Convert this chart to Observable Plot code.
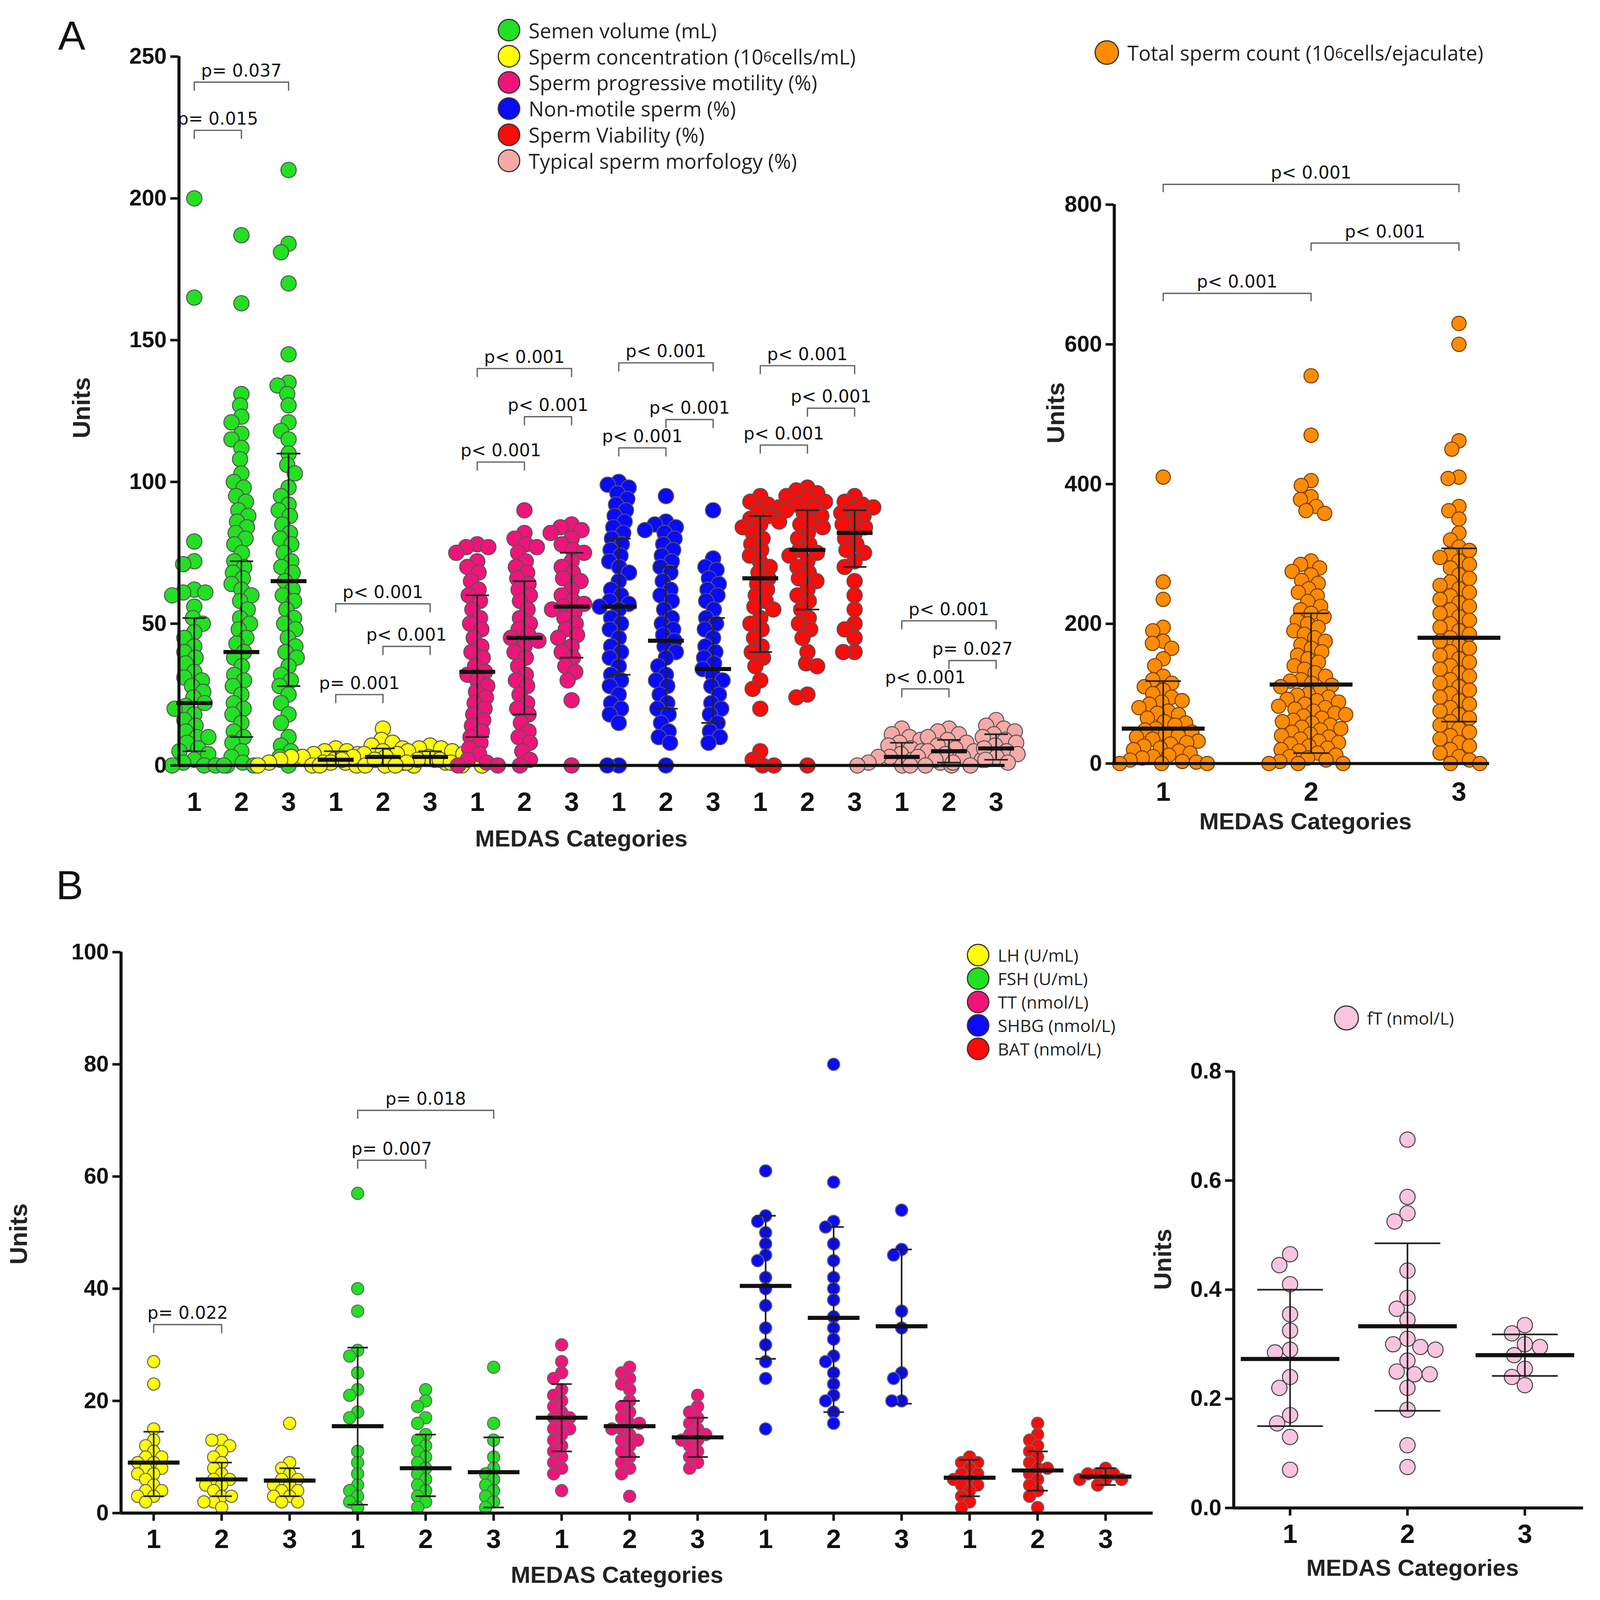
<!DOCTYPE html>
<html><head><meta charset="utf-8">
<script src="https://cdn.jsdelivr.net/npm/d3@7"></script>
<script src="https://cdn.jsdelivr.net/npm/@observablehq/plot@0.6"></script>
<style>
html,body{margin:0;padding:0;background:#fff;}
#root{position:relative;width:1560px;height:1564px;zoom:2.611;font-family:"Liberation Sans",Arial,sans-serif;overflow:hidden;}
sup{font-size:0.7em;}
</style></head><body><div id="root"></div>
<script>
const catLabels = ["1","2","3"];
// Panel A (left): 18 groups
const aColors = ["#22e022","#22e022","#22e022","#ffff00","#ffff00","#ffff00","#f0147a","#f0147a","#f0147a","#0a0aff","#0a0aff","#0a0aff","#ff0a0a","#ff0a0a","#ff0a0a","#f6a9a6","#f6a9a6","#f6a9a6"];
const aValues = [
 [200,165,79,72,71,62,61,61,60,56,52,50,47,45,42,40,38,36,33,31,30,28,26,24,22,21,20,18,16,14,12,10,10,8,6,5,4,2,1,0,0,0,0],
 [187,163,131,127,123,121,117,115,112,108,103,100,98,95,93,90,88,86,84,82,80,78,75,72,70,68,66,64,62,60,58,55,52,50,48,45,43,40,38,35,32,30,28,25,22,20,18,15,12,10,8,5,3,1,0,0],
 [210,184,181,170,145,135,134,131,127,121,118,115,110,106,103,98,95,92,90,88,85,82,80,78,75,72,70,68,65,62,60,58,55,52,50,48,45,42,40,38,35,32,30,28,25,22,18,15,10,7,5,3,0],
 [6,5,5,4,4,3,3,3,2,2,2,2,1,1,1,1,0,0,0,0],
 [13,9,8,7,6,5,4,4,3,3,3,2,2,2,1,1,1,0,0,0,0],
 [7,6,6,5,5,4,4,3,3,3,2,2,2,1,1,0,0,0],
 [78,77,77,75,72,70,68,65,62,60,58,55,52,50,48,45,42,40,38,35,33,32,30,28,26,24,22,20,18,16,14,12,10,8,6,4,2,1,0,0],
 [90,82,80,78,77,75,72,70,68,66,64,62,60,58,55,52,50,48,46,45,44,42,40,38,35,32,30,28,25,22,20,18,15,12,10,8,5,2,0],
 [85,84,83,82,80,78,76,75,72,70,68,66,65,62,60,58,57,56,55,54,52,50,48,46,45,42,40,38,35,33,30,23,0],
 [100,99,98,96,94,92,90,88,86,84,82,80,78,76,74,72,70,68,65,62,60,58,57,56,55,52,50,48,45,42,40,38,35,32,30,28,25,22,20,18,15,0,0],
 [95,86,85,84,83,82,80,78,76,74,72,70,68,65,62,60,58,55,52,50,48,46,44,42,40,38,35,32,30,28,25,22,20,18,15,12,10,8,0],
 [90,73,70,69,66,64,62,60,58,55,52,50,48,45,42,40,38,36,34,32,30,28,25,22,20,18,15,12,10,8],
 [95,93,92,91,90,88,87,86,85,84,82,80,78,76,74,72,70,68,66,64,62,60,58,56,55,52,50,48,45,42,40,38,35,30,27,20,5,2,0,0],
 [98,97,96,95,94,93,92,91,90,89,88,86,85,84,82,80,78,76,75,74,72,70,68,66,65,62,60,58,55,52,50,48,45,40,36,35,25,24,0],
 [95,93,92,91,90,89,88,86,85,84,82,80,78,76,75,72,70,65,60,55,50,48,45,40,40],
 [13,11,10,9,8,7,6,5,4,3,3,2,2,1,1,0,0,0],
 [13,12,11,10,9,8,7,6,5,5,4,3,3,2,2,1,0,0,0],
 [16,14,13,12,11,10,9,8,7,6,5,4,3,2,1]
];
const aMed = [22,40,65,2,3,3,33,45,56,56,44,34,66,76,82,3,5,6];
const aLo  = [5,10,28,0,0,0,10,18,38,32,20,15,40,55,70,0,1,2];
const aHi  = [52,72,110,5,6,5,60,65,75,80,70,52,88,90,90,8,9,11];
const aBrackets = [
 {a:0,b:1,y:224,label:"p= 0.015"},{a:0,b:2,y:241,label:"p= 0.037"},
 {a:3,b:5,y:57,label:"p< 0.001"},{a:4,b:5,y:42,label:"p< 0.001"},{a:3,b:4,y:25,label:"p= 0.001"},
 {a:6,b:8,y:140,label:"p< 0.001"},{a:7,b:8,y:123,label:"p< 0.001"},{a:6,b:7,y:107,label:"p< 0.001"},
 {a:9,b:11,y:142,label:"p< 0.001"},{a:10,b:11,y:122,label:"p< 0.001"},{a:9,b:10,y:112,label:"p< 0.001"},
 {a:12,b:14,y:141,label:"p< 0.001"},{a:13,b:14,y:126,label:"p< 0.001"},{a:12,b:13,y:113,label:"p< 0.001"},
 {a:15,b:17,y:51,label:"p< 0.001"},{a:16,b:17,y:37,label:"p= 0.027"},{a:15,b:16,y:27,label:"p< 0.001"}
];
// Panel A (right): total sperm count
const tscValues = [
 [410,260,235,195,190,175,172,165,150,140,125,120,115,110,105,100,95,90,88,85,80,75,72,70,65,60,58,55,50,48,45,42,40,38,35,32,30,28,25,22,20,18,15,12,10,8,5,3,2,0,0,0],
 [555,470,405,398,382,378,368,362,358,290,285,280,275,270,262,258,250,245,240,232,225,220,215,210,205,200,195,190,185,180,175,170,165,160,155,150,145,140,135,130,125,120,118,115,112,110,105,100,98,95,92,90,88,85,82,80,78,75,72,70,68,65,62,60,58,55,52,50,48,45,42,40,38,35,32,30,28,25,22,20,18,15,12,10,8,5,3,0,0,0],
 [630,600,462,450,410,408,368,362,350,330,320,310,305,300,295,290,285,280,270,265,260,255,250,245,240,235,230,225,220,215,210,205,200,195,190,185,180,175,170,165,160,155,150,145,140,135,130,125,120,115,110,105,100,95,90,85,80,75,70,65,60,55,50,45,40,35,30,25,20,15,10,5,0,0]
];
const tscMed = [50,113,180], tscLo = [0,15,60], tscHi = [118,215,308];
const tscBrackets = [{a:0,b:2,y:829,label:"p< 0.001"},{a:1,b:2,y:745,label:"p< 0.001"},{a:0,b:1,y:673,label:"p< 0.001"}];
// Panel B (left): hormones, 15 groups
const bColors = ["#ffff00","#ffff00","#ffff00","#22e022","#22e022","#22e022","#f0147a","#f0147a","#f0147a","#0a0aff","#0a0aff","#0a0aff","#ff0a0a","#ff0a0a","#ff0a0a"];
const bValues = [
 [27,23,15,13,12,11,10,10,9,9,8,8,7,7,6,5,4,4,3,3,2],
 [13,13,12,11,10,9,8,7,6,6,5,5,4,3,3,2,2,1],
 [16,9,8,7,6,6,5,5,4,4,3,3,2,2],
 [57,40,36,29,28,25,22,21,18,17,11,9,7,5,4,3,2,1],
 [22,20,19,17,16,14,13,12,11,10,9,8,7,6,5,4,3,2,1],
 [26,16,13,10,8,7,6,5,4,3,2,1],
 [30,27,25,24,22,21,20,19,18,17,17,16,15,15,14,13,12,11,10,9,8,7,4],
 [26,25,24,23,22,20,19,18,17,16,16,15,15,14,13,13,12,11,10,9,8,7,3],
 [21,19,18,17,16,15,14,14,13,13,12,11,10,9,8],
 [61,53,52,50,48,46,45,42,40,37,33,30,27,24,15],
 [80,59,52,51,48,45,42,40,38,35,33,31,28,27,25,23,21,20,18,16],
 [54,47,46,36,33,25,24,20,20],
 [10,9,9,8,7,7,6,6,5,5,4,3,2,1],
 [16,14,13,12,11,10,9,8,8,7,6,5,4,3,1],
 [8,7,7,7,6,6,6,5]
];
const bMed = [9,6,5.8,15.5,8,7.3,17,15.5,13.5,40.5,34.8,33.3,6.3,7.6,6.5];
const bLo  = [3,3,3,1.5,3,1,11,10,10,27.5,18,19.5,3,4,5];
const bHi  = [14.5,9,8,29.5,14,13.5,23,20,17,53,51,47,9.5,11,8];
const bBrackets = [{a:0,b:1,y:33.6,label:"p= 0.022"},{a:3,b:4,y:62.9,label:"p= 0.007"},{a:3,b:5,y:71.8,label:"p= 0.018"}];
// Panel B (right): fT
const ftValues = [
 [0.465,0.445,0.41,0.355,0.325,0.29,0.285,0.24,0.22,0.17,0.155,0.13,0.07],
 [0.675,0.57,0.54,0.525,0.435,0.385,0.365,0.345,0.31,0.30,0.295,0.29,0.27,0.25,0.245,0.245,0.22,0.18,0.115,0.075],
 [0.335,0.32,0.30,0.295,0.28,0.255,0.24,0.225]
];
const ftMed = [0.273,0.333,0.28], ftLo = [0.15,0.178,0.242], ftHi = [0.40,0.485,0.318];

// beeswarm layout (deterministic packing from the values)
function swarm(groups, base, ky, kx, r, colorOf) {
  const rows = [];
  groups.forEach((vals, i) => {
    const placed = [];
    [...vals].sort((a,b)=>b-a).forEach(v => {
      const py = v*ky; const cands = [0];
      for (const p of placed) { const dy = Math.abs(p.py-py); if (dy < 2*r) { const d = Math.sqrt(4*r*r-dy*dy); cands.push(p.px+d, p.px-d); } }
      cands.sort((a,b)=>Math.abs(a)-Math.abs(b)||a-b);
      let px = cands.find(c => placed.every(p => (p.px-c)**2+(p.py-py)**2 >= 4*r*r-0.01));
      placed.push({px,py});
      rows.push({x: base(i) + px/kx, v, c: colorOf(i)});
    });
  });
  return rows;
}

function panel({values, med, lo, hi, brackets, xDomain, yDomain, yTicks, xTicks, xTickFmt, width, height, margins, r, collide, colorOf, base, dotStroke, arm, cap, medHalf, tickFmt, bracketFont, xTickSize, xPad}) {
  const [mt, mr, mb, ml] = margins;
  const ky = (height-mt-mb)/(yDomain[1]-yDomain[0]);
  const kx = (width-ml-mr)/(xDomain[1]-xDomain[0]);
  const pts = swarm(values, base, ky, kx, collide, colorOf);
  const stats = med.map((m,i)=>({x: base(i), m, lo: lo[i], hi: hi[i]}));
  const br = brackets.map(d=>({...d, xa: base(d.a), xb: base(d.b), xm:(base(d.a)+base(d.b))/2, y2: d.y-arm}));
  return Plot.plot({
    width, height, marginTop: mt, marginRight: mr, marginBottom: mb, marginLeft: ml,
    style: {fontFamily: "Liberation Sans, Arial, sans-serif", fontSize: "22px", fontWeight: "bold", color: "#111", overflow: "visible"},
    x: {domain: xDomain, axis: null},
    y: {domain: yDomain, axis: null},
    marks: [
      Plot.dot(pts, {x: "x", y: "v", r, fill: "c", stroke: dotStroke, strokeWidth: 1}),
      Plot.ruleX(stats, {x: "x", y1: "lo", y2: "hi", stroke: "#222", strokeWidth: 1.6}),
      Plot.link(stats, {x1: d=>d.x-cap, x2: d=>d.x+cap, y1: "lo", y2: "lo", stroke: "#222", strokeWidth: 1.6}),
      Plot.link(stats, {x1: d=>d.x-cap, x2: d=>d.x+cap, y1: "hi", y2: "hi", stroke: "#222", strokeWidth: 1.6}),
      Plot.link(stats, {x1: d=>d.x-medHalf, x2: d=>d.x+medHalf, y1: "m", y2: "m", stroke: "#111", strokeWidth: 4}),
      Plot.link(br, {x1: "xa", x2: "xb", y1: "y", y2: "y", stroke: "#666", strokeWidth: 1.3}),
      Plot.ruleX(br, {x: "xa", y1: "y", y2: "y2", stroke: "#666", strokeWidth: 1.3}),
      Plot.ruleX(br, {x: "xb", y1: "y", y2: "y2", stroke: "#666", strokeWidth: 1.3}),
      Plot.text(br, {x: "xm", y: "y", text: "label", dy: -11, fontWeight: "normal", fontSize: bracketFont, fontFamily: "DejaVu Sans, sans-serif", fill: "#111"}),
      Plot.ruleY([yDomain[0]], {stroke: "#111", strokeWidth: 3}),
      Plot.ruleX([xDomain[0]], {stroke: "#111", strokeWidth: 3}),
      Plot.axisY({ticks: yTicks, tickSize: 8, tickPadding: 4, tickFormat: tickFmt, label: null, strokeWidth: 2.5}),
      Plot.axisX({ticks: xTicks, tickSize: xTickSize, tickPadding: xPad, tickFormat: xTickFmt, label: null, fontSize: 26, strokeWidth: 2.5})
    ]
  });
}

const root = document.getElementById("root");
function place(el, left, top) { el.style.position = "absolute"; el.style.left = left+"px"; el.style.top = top+"px"; root.appendChild(el); }
function html(s, left, top, css) { const d = document.createElement("div"); d.innerHTML = s; d.style.cssText = css||""; place(d, left, top); return d; }

// A left
place(panel({values: aValues, med: aMed, lo: aLo, hi: aHi, brackets: aBrackets,
  xDomain: [-0.324, 17.19], yDomain: [0,250], yTicks: [0,50,100,150,200,250], xTicks: d3.range(18), xTickFmt: i=>catLabels[i%3],
  width: 900, height: 850, margins: [55,15,100,75], r: 7.5, collide: 5.6, colorOf: i=>aColors[i], base: i=>i,
  dotStroke: "#555", arm: 3.2, cap: 0.25, medHalf: 0.38, tickFmt: d=>d, bracketFont: 17, xTickSize: 0, xPad: 26}), 100, 0);

// A right
place(panel({values: tscValues, med: tscMed, lo: tscLo, hi: tscHi, brackets: tscBrackets,
  xDomain: [0.669, 3.207], yDomain: [0,800], yTicks: [0,200,400,600,800], xTicks: [1,2,3], xTickFmt: d=>d,
  width: 480, height: 700, margins: [50,20,102,92], r: 7, collide: 5.4, colorOf: ()=>"#ff8c00", base: i=>i+1,
  dotStroke: "#7a3d00", arm: 12, cap: 0.12, medHalf: 0.28, tickFmt: d=>d, bracketFont: 17, xTickSize: 0, xPad: 18}), 1000, 150);

// B left
place(panel({values: bValues, med: bMed, lo: bLo, hi: bHi, brackets: bBrackets,
  xDomain: [-0.48, 14.7], yDomain: [0,100], yTicks: [0,20,40,60,80,100], xTicks: d3.range(15), xTickFmt: i=>catLabels[i%3],
  width: 1100, height: 650, margins: [33,20,67,68], r: 6, collide: 4.8, colorOf: i=>bColors[i], base: i=>i,
  dotStroke: "#666", arm: 1.6, cap: 0.15, medHalf: 0.38, tickFmt: d=>d, bracketFont: 17, xTickSize: 8, xPad: 8}), 50, 900);

// B right
place(panel({values: ftValues, med: ftMed, lo: ftLo, hi: ftHi, brackets: [],
  xDomain: [0.52, 3.5], yDomain: [0,0.8], yTicks: [0,0.2,0.4,0.6,0.8], xTicks: [1,2,3], xTickFmt: d=>d,
  width: 410, height: 560, margins: [50,8,82,59], r: 7.5, collide: 7.5, colorOf: ()=>"#f9c4df", base: i=>i+1,
  dotStroke: "#444", arm: 0, cap: 0.28, medHalf: 0.42, tickFmt: d=>d.toFixed(1), bracketFont: 17, xTickSize: 8, xPad: 8}), 1150, 1000);

// Panel letters, axis titles
html("A", 57, 12, "font-size:40px;font-family:'Liberation Sans',Arial;color:#111");
html("B", 55, 845, "font-size:40px;font-family:'Liberation Sans',Arial;color:#111");
const units = [[80,400],[1035,405],[18,1210],[1140,1235]];
units.forEach(([x,y]) => html("Units", x-35, y-14, "font-weight:bold;font-size:24px;color:#222;transform:rotate(-90deg);width:70px;text-align:center;font-family:'Liberation Sans',Arial"));
const titles = [[570,823],[1280,806],[605,1545],[1385,1538]];
titles.forEach(([x,y]) => html("MEDAS Categories", x-150, y-14, "font-weight:bold;font-size:23px;color:#222;width:300px;text-align:center;font-family:'Liberation Sans',Arial"));

// Legends
const dotCss = "display:inline-block;border-radius:50%;border:1.5px solid #333;margin-right:8px;";
const legA = [["#22e022","Semen volume (mL)"],["#ffff00","Sperm concentration (10<sup>6</sup>cells/mL)"],["#f0147a","Sperm progressive motility (%)"],["#0a0aff","Non-motile sperm (%)"],["#ff0a0a","Sperm Viability (%)"],["#f6a9a6","Typical sperm morfology (%)"]];
legA.forEach(([c,t],i) => html(`<span style="${dotCss}width:20px;height:20px;background:${c}"></span>${t}`, 488, 16+i*25.6, "display:flex;align-items:center;font-size:20px;font-family:'Open Sans',sans-serif;color:#222;white-space:nowrap"));
html(`<span style="${dotCss}width:22px;height:22px;background:#ff8c00"></span>Total sperm count (10<sup>6</sup> cells/ejaculate)`, 1073, 38, "display:flex;align-items:center;font-size:20px;font-family:'Open Sans',sans-serif;color:#222;white-space:nowrap");
const legB = [["#ffff00","LH (U/mL)"],["#22e022","FSH (U/mL)"],["#f0147a","TT (nmol/L)"],["#0a0aff","SHBG (nmol/L)"],["#ff0a0a","BAT (nmol/L)"]];
legB.forEach(([c,t],i) => html(`<span style="${dotCss}width:20px;height:20px;background:${c}"></span>${t}`, 948, 925+i*23, "display:flex;align-items:center;font-size:17px;font-family:'Open Sans',sans-serif;color:#222;white-space:nowrap"));
html(`<span style="${dotCss}width:22px;height:22px;background:#f9c4df"></span>fT (nmol/L)`, 1308, 986, "display:flex;align-items:center;font-size:17px;font-family:'Open Sans',sans-serif;color:#222;white-space:nowrap");
</script></body></html>
